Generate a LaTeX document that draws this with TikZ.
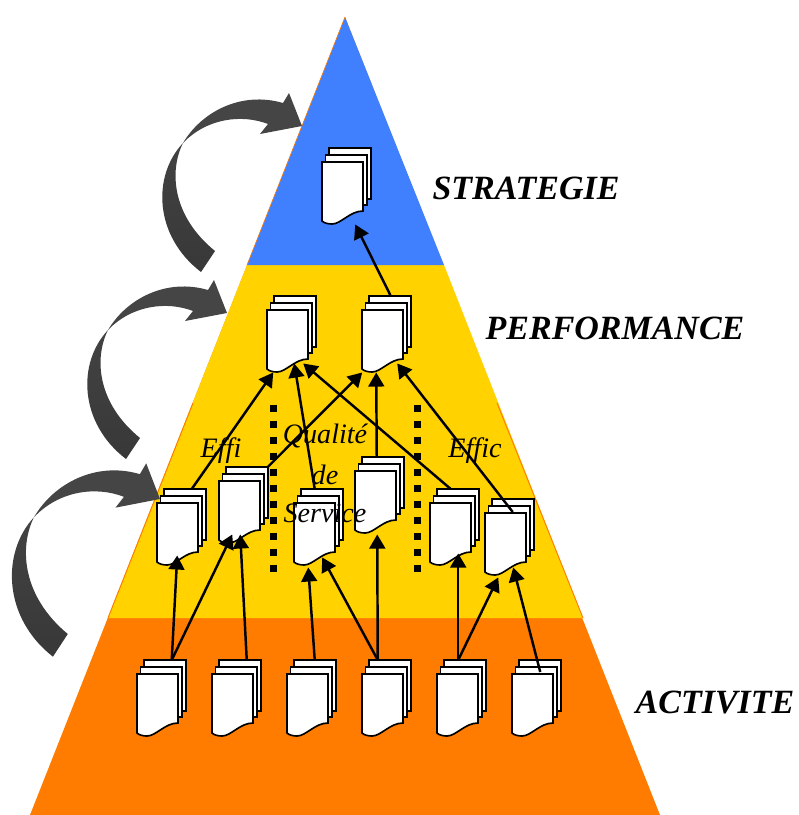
\documentclass[tikz,border=0pt]{standalone}
\usepackage{fontspec}
\setmainfont{Liberation Serif}
\usetikzlibrary{arrows.meta}
\definecolor{stratblue}{HTML}{4080FF}
\definecolor{perfyellow}{HTML}{FFD200}
\definecolor{activorange}{HTML}{FF7C00}
\tikzset{
  arj/.style={line width=2.1pt,-{Triangle[length=12pt,width=13.5pt]}},
  sheet/.style={draw=black,fill=white,line width=1.4pt},
  stackbox/.style={anchor=north west,inner sep=0pt,minimum width=1.47cm,minimum height=2.28cm},
  levellab/.style={font=\fontsize{29}{32}\selectfont\bfseries\itshape},
  zonelab/.style={font=\fontsize{24}{26}\selectfont\itshape},
  sepline/.style={line width=7*0.03cm,dash pattern=on 0.21cm off 0.27cm},
  docstack/.pic={
    \draw[sheet] (7,-14) rectangle (49,37);
    \draw[sheet] (3.5,-7) rectangle (45,43);
    \draw[sheet] (0,0) -- (41,0) -- (41,49) .. controls (28,49) and (19,62) .. (10,62)
      .. controls (6,62) and (2,61) .. (0,59) -- cycle;
  },
  bentarrow/.pic={
    \shade[top color=black!74,bottom color=black!78]
      (-101,146) .. controls (-148,110) and (-150,50) .. (-119,17)
      .. controls (-133,45) and (-130,90) .. (-87,125) -- cycle;
    \fill[black!73]
      (-119,17) .. controls (-100,-15) and (-60,-35) .. (-19,-23)
      -- (-13,-33) -- (0,0) -- (-42,8) -- (-34,-2)
      .. controls (-60,-12) and (-95,-8) .. (-119,17) -- cycle;
  }
}
\begin{document}
\begin{tikzpicture}[x=0.03cm,y=-0.03cm]
\useasboundingbox (0,0) rectangle (798,815);
\fill[activorange] (345,17) -- (660,815) -- (30,815) -- cycle;
\fill[perfyellow] (247,265) -- (444,265) -- (583,618) -- (108,618) -- cycle;
\fill[stratblue] (345,17) -- (444,265) -- (247,265) -- cycle;
\draw[activorange,line width=0.8pt] (193,403) -- (108,618);
\draw[activorange,line width=0.5pt] (345,17) -- (247,265);
\draw[activorange,line width=0.8pt] (497,403) -- (583,618);
\draw[sepline] (273,404.5) -- (273,572);
\draw[sepline] (417,404.5) -- (417,572);
\pic at (302,126) {bentarrow};
\pic at (227,313) {bentarrow};
\pic[xscale=1.06,yscale=1.08] at (160,499) {bentarrow};
\foreach \n/\x/\y in {S/322/162,P1/267/310,P2/362/310,E1/157/503,E2/219/481,Q1/294/503,Q2/355/471,F1/430/503,F2/485/513,
    A1/137/674,A2/212/674,A3/287/674,A4/362/674,A5/437/674,A6/512/674}{
  \pic at (\x,\y) {docstack};
  \node[stackbox] (\n) at (\x,\y-14) {};
}
\node[levellab] (lstrat) at (526,188) {STRATEGIE};
\node[levellab] (lperf) at (615,328) {PERFORMANCE};
\node[levellab] (lactiv) at (715,702) {ACTIVITE};
\node[zonelab] (leffi) at (221,451) {Effi};
\node[zonelab] (lqual) at (325,436) {Qualité};
\node[zonelab] (lde) at (325,475) {de};
\node[zonelab] (lserv) at (325,513) {Service};
\node[zonelab] (leffic) at (475,451) {Effic};
% upper levels
\draw[arj] ([shift={(4,0)}]P2.north) -- ([shift={(8.5,0)}]S.south);
\draw[arj] ([shift={(10,0)}]E1.north) -- ([shift={(-18.5,0)}]P1.south);
\draw[arj] ([shift={(24,0)}]E2.north) -- ([shift={(-24.5,0)}]P2.south);
\draw[arj] ([shift={(-4,0)}]Q1.north) -- ([shift={(2.5,-9)}]P1.south);
\draw[arj] ([shift={(-3,0)}]Q2.north) -- ([shift={(-10.5,0)}]P2.south);
\draw[arj] ([shift={(-4,0)}]F1.north) -- ([shift={(11.5,-9)}]P1.south);
\draw[arj] ([shift={(3,13)}]F2.north) -- ([shift={(10.5,-9)}]P2.south);
% activity to indicators
\draw[arj] ([shift={(10,0)}]A1.north) -- ([shift={(-4.5,-10)}]E1.south);
\draw[arj] ([shift={(10,0)}]A1.north) -- ([shift={(-11.5,-9)}]E2.south);
\draw[arj] ([shift={(10,0)}]A2.north) -- ([shift={(-3.5,-9)}]E2.south);
\draw[arj] ([shift={(3,0)}]A3.north) -- ([shift={(-10.5,2)}]Q1.south);
\draw[arj] ([shift={(-9,0)}]A4.north) -- ([shift={(3.5,-8)}]Q1.south);
\draw[arj] ([shift={(-9,0)}]A4.north) -- ([shift={(-2.5,1)}]Q2.south);
\draw[arj] ([shift={(-3.5,0)}]A5.north) -- ([shift={(3.5,-12)}]F1.south);
\draw[arj] ([shift={(-3.5,0)}]A5.north) -- ([shift={(-11.5,2)}]F2.south);
\draw[arj] ([shift={(3.5,12)}]A6.north) -- ([shift={(3.5,-8)}]F2.south);
\end{tikzpicture}
\end{document}
